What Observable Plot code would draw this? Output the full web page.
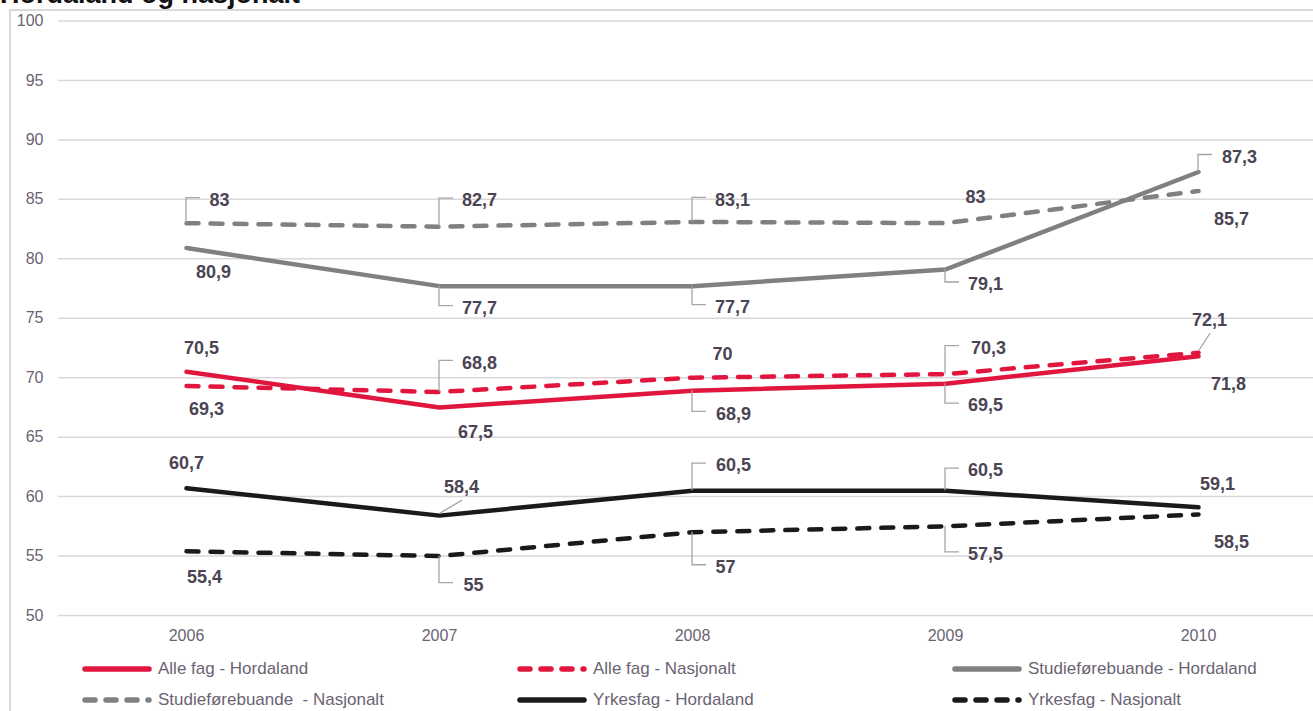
<!DOCTYPE html>
<html><head><meta charset="utf-8">
<script src="https://cdn.jsdelivr.net/npm/d3@7"></script>
<script src="https://cdn.jsdelivr.net/npm/@observablehq/plot@0.6"></script>
<style>
html,body{margin:0;padding:0;background:#fff;overflow:hidden;width:1313px;height:711px;font-family:"Liberation Sans",Arial,sans-serif;}
#wrap{position:relative;width:1313px;height:711px;overflow:hidden;}
#border{position:absolute;left:9px;top:9px;width:1400px;height:800px;border-left:2px solid #d9d9d9;border-top:2px solid #d9d9d9;}
#title{position:absolute;left:0;top:-19px;font-weight:bold;font-size:27px;line-height:27px;color:#111;white-space:nowrap;}
#chart{position:absolute;left:0;top:0;}
#legend{position:absolute;left:0;top:650px;width:1313px;height:61px;}
.item{position:absolute;height:20px;display:flex;align-items:center;font-size:17px;color:#6b6373;white-space:pre;}
.item svg{margin-right:6px;}
</style></head>
<body><div id="wrap"><div id="border"></div><div id="chart"></div><div id="legend"></div><div id="title">Hordaland og nasjonalt</div></div>
<script>
const years = ["2006", "2007", "2008", "2009", "2010"];
const seriesNames = [
  "Alle fag - Hordaland",
  "Alle fag - Nasjonalt",
  "Studieførebuande - Hordaland",
  "Studieførebuande  - Nasjonalt",
  "Yrkesfag - Hordaland",
  "Yrkesfag - Nasjonalt"
];
const alleFagHordaland = [70.5, 67.5, 68.9, 69.5, 71.8];
const alleFagNasjonalt = [69.3, 68.8, 70, 70.3, 72.1];
const studieHordaland = [80.9, 77.7, 77.7, 79.1, 87.3];
const studieNasjonalt = [83, 82.7, 83.1, 83, 85.7];
const yrkesHordaland = [60.7, 58.4, 60.5, 60.5, 59.1];
const yrkesNasjonalt = [55.4, 55, 57, 57.5, 58.5];
const seriesValues = [alleFagHordaland, alleFagNasjonalt, studieHordaland, studieNasjonalt, yrkesHordaland, yrkesNasjonalt];
const yTicks = [50, 55, 60, 65, 70, 75, 80, 85, 90, 95, 100];

// styling
const seriesColors = ["#e0163f", "#e0163f", "#808080", "#808080", "#1a1a1a", "#1a1a1a"];
const seriesDashed = [false, true, false, true, false, true];
// label placement (pixel offsets from each point, leader type)
const labelPlacement = [
  [[15, -24, null], [36, 25, null], [41, 23, "elbow"], [40, 22, "elbow"], [30, 28, null]],
  [[20, 23, null], [40, -29, "elbow"], [30, -23, null], [43, -26, "elbow"], [11, -32, "diag"]],
  [[27, 24, null], [40, 22, "elbow"], [40, 21, "elbow"], [40, 15, "elbow"], [41, -15, "elbow"]],
  [[33, -23, "elbow"], [40, -26, "elbow"], [40, -22, "elbow"], [30, -26, null], [33, 28, null]],
  [[0, -25, null], [22, -28, "diag"], [41, -25, "elbow"], [40, -20, "elbow"], [19, -23, null]],
  [[18, 26, null], [34, 29, "elbow"], [33, 35, "elbow"], [40, 28, "elbow"], [33, 28, null]]
];

const rows = [];
const labels = [];
seriesNames.forEach((name, s) => {
  years.forEach((yr, i) => {
    const v = seriesValues[s][i];
    rows.push({series: name, year: yr, value: v, dashed: seriesDashed[s]});
    const p = labelPlacement[s][i];
    labels.push({series: name, year: yr, value: v, label: String(v).replace(".", ","), dx: p[0], dy: p[1], leader: p[2]});
  });
});

const textColor = "#4b4453";
const tickColor = "#6b6373";

function leaderMark(index, scales) {
  const g = d3.create("svg:g").attr("fill", "none").attr("stroke", "#a8a3ab").attr("stroke-width", 1.3);
  for (const l of labels) {
    if (!l.leader) continue;
    const px = scales.x(l.year), py = scales.y(l.value);
    let pts;
    if (l.leader === "elbow") {
      const cy = py + l.dy - 2;
      pts = [[px, py], [px, cy], [px + 14, cy]];
    } else {
      pts = [[px + 1, py - 2], [px + l.dx + 1, py + l.dy + 13]];
    }
    g.append("path").attr("d", d3.line()(pts));
  }
  return g.node();
}

const chart = Plot.plot({
  width: 1313,
  height: 650,
  marginLeft: 58,
  marginRight: 0,
  marginTop: 0,
  marginBottom: 35,
  style: {fontFamily: '"Liberation Sans", Arial, sans-serif', background: "transparent", overflow: "visible"},
  x: {type: "point", domain: years, range: [185, 1198], padding: 0},
  y: {domain: [50, 100], range: [615, 20.5]},
  color: {domain: seriesNames, range: seriesColors},
  marks: [
    Plot.ruleY(yTicks, {stroke: "#d9d6dc", strokeWidth: 1.5}),
    Plot.axisY({ticks: yTicks, tickSize: 0, tickPadding: 15, fontSize: 16, fill: tickColor, label: null}),
    Plot.axisX({tickSize: 0, tickPadding: 14, fontSize: 16, fill: tickColor, label: null}),
    Plot.line(rows.filter(d => !d.dashed), {x: "year", y: "value", z: "series", stroke: "series", strokeWidth: 4.5, strokeLinecap: "round", strokeLinejoin: "round"}),
    Plot.line(rows.filter(d => d.dashed), {x: "year", y: "value", z: "series", stroke: "series", strokeWidth: 4.5, strokeDasharray: "12,12", strokeLinecap: "round", strokeLinejoin: "round"}),
    leaderMark,
    ...labels.map(l => Plot.text([l], {x: "year", y: "value", text: "label", dx: l.dx, dy: l.dy, fontSize: 18, fontWeight: "bold", fill: textColor}))
  ]
});
document.getElementById("chart").appendChild(chart);

// legend
const legendPos = [[82, 9], [517, 9], [952, 9], [82, 40], [517, 40], [952, 40]];
const legend = document.getElementById("legend");
seriesNames.forEach((name, s) => {
  const item = document.createElement("div");
  item.className = "item";
  item.style.left = legendPos[s][0] + "px";
  item.style.top = legendPos[s][1] + "px";
  const sw = d3.create("svg").attr("width", 70).attr("height", 8);
  sw.append("line").attr("x1", 3).attr("x2", 67).attr("y1", 4).attr("y2", 4)
    .attr("stroke", seriesColors[s]).attr("stroke-width", 5.5).attr("stroke-linecap", "round")
    .attr("stroke-dasharray", seriesDashed[s] ? "10,11" : null);
  item.appendChild(sw.node());
  const t = document.createElement("span");
  t.textContent = name;
  item.appendChild(t);
  legend.appendChild(item);
});
</script>
</body></html>
